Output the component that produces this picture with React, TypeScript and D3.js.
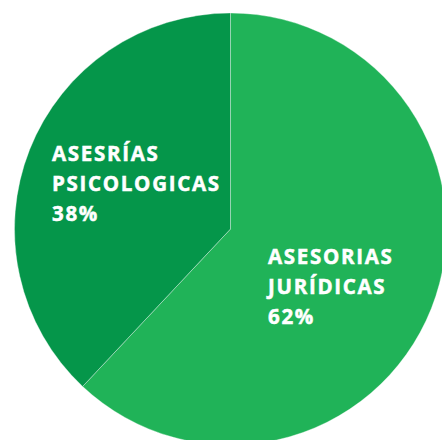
import React from "react";
import * as d3 from "d3";

const categories = ["ASESORIAS JURÍDICAS", "ASESRÍAS PSICOLOGICAS"];
const labelLines = [["ASESORIAS", "JURÍDICAS"], ["ASESRÍAS", "PSICOLOGICAS"]];
const values = [62, 38];
const colors = ["#20b358", "#05964a"];

const W = 442;
const H = 440;
const cx = 230.5;
const cy = 229;
const R = 216;

export default function App() {
  const pie = d3.pie<number>().sort(null).value((d) => d)(values);
  const arc = d3.arc<d3.PieArcDatum<number>>().innerRadius(0).outerRadius(R);
  const labelPos = [
    { x: 268 - cx, y: 264 - cy },
    { x: 52 - cx, y: 161 - cy },
  ];
  return (
    <svg
      width={W}
      height={H}
      style={{ position: "absolute", left: 0, top: 0 }}
      viewBox={`0 0 ${W} ${H}`}
    >
      <rect width={W} height={H} fill="#fff" />
      <g transform={`translate(${cx},${cy})`}>
        {pie.map((p, i) => (
          <path
            key={categories[i]}
            d={arc(p) || ""}
            fill={colors[i]}
            stroke="rgba(255,255,255,0.35)"
            strokeWidth={1}
          />
        ))}
        {pie.map((p, i) => (
          <text
            key={"t" + i}
            x={labelPos[i].x}
            y={labelPos[i].y}
            fill="#fff"
            fontFamily="'Open Sans', sans-serif"
            fontWeight={700}
            fontSize={20.5}
            letterSpacing={1.7}
            stroke="#fff"
            strokeWidth={0.5}
          >
            {labelLines[i].map((l, j) => (
              <tspan key={j} x={labelPos[i].x} dy={j === 0 ? 0 : 30}>
                {l}
              </tspan>
            ))}
            <tspan x={labelPos[i].x} dy={30}>
              {values[i]}%
            </tspan>
          </text>
        ))}
      </g>
    </svg>
  );
}
